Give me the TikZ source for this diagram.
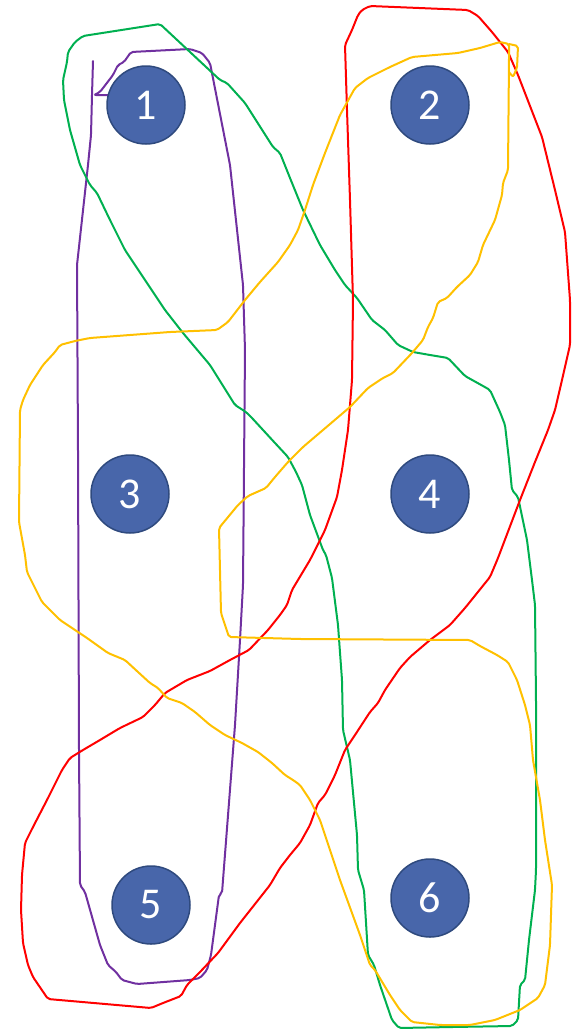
\documentclass[tikz,border=0pt]{standalone}
\usepackage{fontspec}
\setmainfont{Carlito}
\definecolor{azulnodo}{HTML}{4866AA}
\definecolor{bordenodo}{HTML}{2F4A7E}
\definecolor{morado}{HTML}{7030A0}
\definecolor{verde}{HTML}{00B050}
\definecolor{rojo}{HTML}{FF0000}
\definecolor{naranja}{HTML}{FFC000}
\begin{document}
\begin{tikzpicture}[x=1pt, y=-1pt, line join=round, line cap=round,
    trazo/.style={line width=2pt, rounded corners=2pt},
    nodo/.style={circle, fill=azulnodo, draw=bordenodo, line width=1.5pt,
        minimum size=78pt, inner sep=0pt, text=white,
        font=\fontsize{44}{44}\selectfont}]
    \useasboundingbox (0,0) rectangle (579,1029);
    % Contorno morado
    \draw[trazo, morado] (93,61) -- (92,95) -- (91,135) -- (88,165) -- (77,265) -- (78,450) -- (79,750)
        -- (80,885) -- (85,892) -- (100,945) -- (108,965) -- (116,972) -- (122,980) -- (137,984)
        -- (190,980) -- (200,978) -- (207,970) -- (211,955) -- (219,895) -- (222,893) -- (235,725)
        -- (240,640) -- (243,585) -- (245,350) -- (243,285) -- (230,165) -- (210,63) -- (202,53)
        -- (190,49) -- (131,52) -- (124,62) -- (118,65) -- (113,75) -- (100,92) -- (94,95) -- (110,95);
    % Contorno verde
    \draw[trazo, verde] (160,24) -- (220,80) -- (227,83) -- (245,103) -- (273,147) -- (280,153)
        -- (290,178) -- (303,210) -- (320,245) -- (335,270) -- (345,285) -- (357,298) -- (372,320)
        -- (385,330) -- (398,345) -- (413,352) -- (430,355) -- (448,358) -- (465,376) -- (483,386)
        -- (490,390) -- (500,412) -- (505,425) -- (509,460) -- (512,490) -- (518,497) -- (527,540)
        -- (532,580) -- (535,605) -- (536,700) -- (536,870) -- (535,890) -- (529,940) -- (525,980)
        -- (520,985) -- (518,1020) -- (512,1026) -- (452,1027) -- (399,1028) -- (392,1020)
        -- (380,985) -- (374,965) -- (368,955) -- (364,890) -- (358,870) -- (357,835) -- (350,760)
        -- (343,730) -- (342,680) -- (338,625) -- (332,578) -- (326,555) -- (323,550) -- (310,515)
        -- (302,485) -- (296,472) -- (288,457) -- (275,443) -- (252,418) -- (246,412) -- (235,405)
        -- (210,365) -- (183,333) -- (165,310) -- (145,280) -- (125,250) -- (110,220) -- (97,193)
        -- (90,185) -- (80,165) -- (70,130) -- (64,100) -- (63,80) -- (67,62) -- (68,52) -- (75,42)
        -- (83,36) -- cycle;
    % Contorno rojo
    \draw[trazo, rojo] (370,6) -- (468,10) -- (478,16) -- (492,32) -- (508,52) -- (518,75)
        -- (542,137) -- (555,190) -- (565,232) -- (570,300) -- (570,345) -- (562,380) -- (555,410)
        -- (548,430) -- (535,462) -- (520,500) -- (498,558) -- (490,577) -- (465,608) -- (450,625)
        -- (430,640) -- (410,657) -- (400,668) -- (385,690) -- (378,703) -- (370,712) -- (355,735)
        -- (345,750) -- (335,775) -- (325,795) -- (318,803) -- (310,825) -- (300,843) -- (290,855)
        -- (280,868) -- (270,885) -- (240,923) -- (218,953) -- (200,972) -- (187,985) -- (181,996)
        -- (163,1003) -- (151,1008) -- (48,999) -- (33,977) -- (28,965) -- (23,943) -- (21,910)
        -- (22,875) -- (25,843) -- (33,827) -- (48,798) -- (62,770) -- (70,758) -- (83,750)
        -- (100,740) -- (120,728) -- (143,717) -- (155,705) -- (165,693) -- (187,680) -- (210,671)
        -- (230,660) -- (249,650) -- (268,630) -- (280,615) -- (287,605) -- (292,590) -- (310,560)
        -- (325,530) -- (337,497) -- (342,470) -- (348,430) -- (352,380) -- (353,300) -- (350,200)
        -- (347,110) -- (345,45) -- (352,30) -- (358,15) -- (362,10) -- cycle;
    % Contorno naranja
    \draw[trazo, naranja] (458,53) -- (480,48) -- (500,42) -- (509,44) -- (509,60) -- (508,170)
        -- (503,183) -- (502,195) -- (495,220) -- (483,245) -- (478,262) -- (470,275) -- (457,287)
        -- (447,298) -- (438,302) -- (433,318) -- (428,327) -- (423,340) -- (412,353) -- (393,373)
        -- (383,378) -- (368,388) -- (350,407) -- (323,430) -- (303,447) -- (288,462) -- (275,477)
        -- (266,488) -- (248,496) -- (238,505) -- (219,528) -- (221,613) -- (225,625) -- (229,637)
        -- (300,639) -- (470,640) -- (480,646) -- (497,655) -- (508,662) -- (517,680) -- (525,705)
        -- (530,725) -- (533,760) -- (540,800) -- (545,840) -- (552,885) -- (550,945) -- (545,985)
        -- (538,998) -- (520,1010) -- (495,1020) -- (470,1025) -- (440,1025) -- (412,1022)
        -- (400,1010) -- (390,995) -- (375,970) -- (370,965) -- (360,935) -- (340,880) -- (330,850)
        -- (320,820) -- (310,800) -- (300,785) -- (293,780) -- (285,775) -- (272,763) -- (258,752)
        -- (242,743) -- (225,735) -- (210,725) -- (195,712) -- (182,703) -- (167,698) -- (158,688)
        -- (150,683) -- (138,672) -- (125,660) -- (108,653) -- (87,638) -- (75,630) -- (60,620)
        -- (42,602) -- (27,572) -- (25,555) -- (19,522) -- (20,410) -- (23,400) -- (30,385)
        -- (43,365) -- (55,352) -- (60,345) -- (75,341) -- (90,338) -- (130,335) -- (170,332)
        -- (217,330) -- (228,322) -- (245,300) -- (260,282) -- (278,262) -- (290,245) -- (298,230)
        -- (305,210) -- (313,185) -- (325,153) -- (340,115) -- (355,88) -- (368,78) -- (390,67)
        -- (412,57) -- cycle;
    \draw[trazo, naranja] (509,44) -- (518,46) -- (517,68) -- (513,77) -- (509,72);
    % Nodos
    \node[nodo] (n1) at (146,105) {1};
    \node[nodo] (n2) at (430,105) {2};
    \node[nodo] (n3) at (130,494) {3};
    \node[nodo] (n4) at (430,494) {4};
    \node[nodo] (n5) at (151,905) {5};
    \node[nodo] (n6) at (430,898) {6};
\end{tikzpicture}
\end{document}
